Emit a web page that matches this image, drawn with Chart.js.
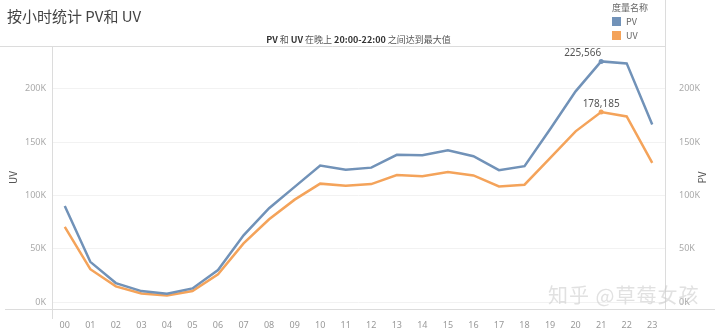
<!DOCTYPE html>
<html>
<head>
<meta charset="utf-8">
<script src="https://cdn.jsdelivr.net/npm/chart.js@4/dist/chart.umd.min.js"></script>
<style>
  html, body { margin: 0; padding: 0; background: #fff; }
  #wrap { position: relative; width: 720px; height: 334px; font-family: "Noto Sans CJK SC", "Noto Sans", sans-serif; }
  #chart { position: absolute; left: 0; top: 0; }
  .title { position: absolute; left: 7px; top: 5px; font-size: 15px; color: #444; }
  .subtitle { position: absolute; left: 52px; width: 613px; top: 33px; text-align: center; font-size: 9px; color: #555; }
  .subtitle b { color: #333; }
  .legend { position: absolute; left: 612px; top: 1px; font-size: 9px; color: #666; line-height: 14px; }
  .legend span { display: inline-block; width: 9px; height: 9px; margin-right: 5px; vertical-align: -1px; }
  .axis-title { position: absolute; font-size: 10px; color: #555; transform: rotate(-90deg); transform-origin: center; }
  .mark { position: absolute; left: 548px; top: 280px; font-size: 20px; color: rgba(200,200,200,0.55); letter-spacing: 1px; }
</style>
</head>
<body>
<div id="wrap">
  <canvas id="chart" width="720" height="334"></canvas>
  <div class="title">按小时统计 PV和 UV</div>
  <div class="subtitle"><b>PV</b> 和 <b>UV</b> 在晚上 <b>20:00-22:00</b> 之间达到最大值</div>
  <div class="legend">
    <div>度量名称</div>
    <div><span style="background:#7192b8"></span>PV</div>
    <div><span style="background:#f4a35a"></span>UV</div>
  </div>
  <div class="axis-title" style="left:6px; top:170px;">UV</div>
  <div class="axis-title" style="left:695px; top:170px;">PV</div>
  <div class="mark">知乎 @草莓女孩</div>
</div>
<script>
// hours of the day
const hours = ['00','01','02','03','04','05','06','07','08','09','10','11',
               '12','13','14','15','16','17','18','19','20','21','22','23'];

// page views per hour
const pvData = [90000, 37700, 17800, 10300, 7800, 12800, 30000, 62600, 88000, 108000, 128000, 124000,
                126000, 138000, 137700, 142300, 136700, 123600, 127400, 162000, 197500, 225566, 223700, 166400];

// unique visitors per hour
const uvData = [70500, 30800, 14700, 8100, 6200, 10300, 26000, 55000, 77600, 96000, 111000, 109000,
                110600, 119000, 118000, 122000, 118700, 108400, 110000, 135000, 160000, 178185, 174000, 130500];

// y axis ticks (shared by both axes)
const yTicks = [0, 50000, 100000, 150000, 200000];

const PV_COLOR = '#7192b8';
const UV_COLOR = '#f4a35a';
const AXIS_LINE = '#dcdcdc';

function kLabel(v) {
    return (v / 1000) + 'K';
}

// frame lines that run past the plot area
const framePlugin = {
    id: 'frame',
    afterDraw(chart) {
        const { ctx, chartArea: a } = chart;
        ctx.save();
        ctx.strokeStyle = AXIS_LINE;
        ctx.lineWidth = 1;
        ctx.beginPath();
        ctx.moveTo(0, a.top + 0.5);            // top rule under the header
        ctx.lineTo(a.right, a.top + 0.5);
        ctx.moveTo(a.left + 0.5, a.top);       // left axis
        ctx.lineTo(a.left + 0.5, a.bottom + 10);
        ctx.moveTo(a.right + 0.5, 0);          // right axis
        ctx.lineTo(a.right + 0.5, a.bottom);
        ctx.moveTo(5, a.bottom + 0.5);         // baseline
        ctx.lineTo(715, a.bottom + 0.5);
        ctx.stroke();
        ctx.restore();
    }
};

// value labels on the peak hour
const peakPlugin = {
    id: 'peak',
    afterDatasetsDraw(chart) {
        const ctx = chart.ctx;
        ctx.save();
        ctx.font = '10px "Noto Sans", sans-serif';
        ctx.textBaseline = 'bottom';
        chart.data.datasets.forEach((ds, di) => {
            const meta = chart.getDatasetMeta(di);
            let idx = 0;
            ds.data.forEach((v, i) => { if (v > ds.data[idx]) idx = i; });
            const pt = meta.data[idx];
            ctx.fillStyle = ds.borderColor;
            ctx.beginPath();
            ctx.arc(pt.x, pt.y, 2.5, 0, Math.PI * 2);
            ctx.fill();
            ctx.fillStyle = '#555';
            ctx.textAlign = di === 0 ? 'right' : 'center';
            ctx.fillText(ds.data[idx].toLocaleString('en-US'), pt.x, pt.y - 3);
        });
        ctx.restore();
    }
};

const yCommon = {
    min: -6500,
    max: 240000,
    border: { display: false },
    grid: { color: '#f2f2f2', drawTicks: false },
    afterBuildTicks: s => { s.ticks = yTicks.map(v => ({ value: v })); },
    ticks: {
        color: '#aaa',
        font: { size: 9, family: 'Noto Sans' },
        padding: 6,
        callback: v => kLabel(v)
    }
};

new Chart(document.getElementById('chart'), {
    type: 'line',
    data: {
        labels: hours,
        datasets: [
            { label: 'PV', data: pvData, yAxisID: 'yPV', borderColor: PV_COLOR, borderWidth: 2.5, pointRadius: 0, tension: 0 },
            { label: 'UV', data: uvData, yAxisID: 'yUV', borderColor: UV_COLOR, borderWidth: 2.5, pointRadius: 0, tension: 0 }
        ]
    },
    options: {
        responsive: false,
        animation: false,
        layout: { padding: { top: 46 } },
        plugins: { legend: { display: false }, tooltip: { enabled: false } },
        scales: {
            x: {
                offset: true,
                border: { display: false },
                grid: { display: false },
                ticks: { color: '#999', font: { size: 9, family: 'Noto Sans' }, padding: 3, maxRotation: 0 },
                afterFit: s => { s.height = 25; }
            },
            yUV: Object.assign({}, yCommon, {
                position: 'left',
                afterFit: s => { s.width = 52; }
            }),
            yPV: Object.assign({}, yCommon, {
                position: 'right',
                grid: { display: false },
                afterFit: s => { s.width = 55; }
            })
        }
    },
    plugins: [framePlugin, peakPlugin]
});
</script>
</body>
</html>
